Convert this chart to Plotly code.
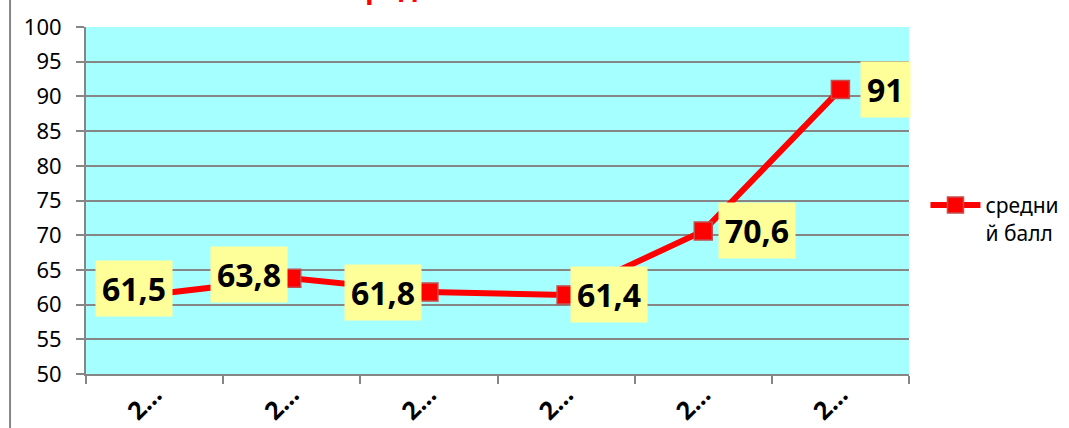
import plotly.graph_objects as go

categories = ["c1", "c2", "c3", "c4", "c5", "c6"]
tick_labels = ["2…", "2…", "2…", "2…", "2…", "2…"]
values = [61.5, 63.8, 61.8, 61.4, 70.6, 91]
value_labels = ["61,5", "63,8", "61,8", "61,4", "70,6", "91"]
series_name = "средни<br>й балл"
title_text = "Средний балл"

# label offsets (pixels) relative to each point
label_dx = [-21, -43, -46, 43, 54, 45]
label_dy = [6, 4, 0, 0, 1, 0]

fig = go.Figure()
fig.add_trace(go.Scatter(
    x=categories, y=values, mode="lines+markers", name=series_name,
    line=dict(color="#FF0000", width=6),
    marker=dict(symbol="square", size=18, color="#FF0000",
                line=dict(color="#C0504D", width=1.5)),
))

for c, v, t, dx, dy in zip(categories, values, value_labels, label_dx, label_dy):
    fig.add_annotation(x=c, y=v, text="<b>%s</b>" % t, showarrow=False,
                       xshift=dx, yshift=dy, bgcolor="#FFFF99", borderpad=6,
                       font=dict(family="Noto Sans", size=32, color="black"))

fig.add_annotation(xref="paper", yref="paper", x=0.44, y=1, yanchor="bottom",
                   yshift=19, text="<b>%s</b>" % title_text, showarrow=False,
                   font=dict(family="Noto Sans", size=28, color="#FF0000"))

fig.add_shape(type="line", xref="paper", yref="paper",
              x0=-0.0923, x1=-0.0923, y0=-0.2, y1=1.2,
              line=dict(color="#868686", width=2))

fig.update_layout(
    width=1069, height=428,
    margin=dict(l=86, r=160, t=27, b=54, autoexpand=False),
    paper_bgcolor="white", plot_bgcolor="#A6FFFF",
    font=dict(family="Noto Sans", size=21, color="black"),
    showlegend=True,
    legend=dict(x=1.02, y=0.545, xanchor="left", yanchor="top",
                valign="top", font=dict(size=21), bgcolor="rgba(0,0,0,0)",
                itemwidth=50),
)
fig.update_xaxes(
    type="category", categoryorder="array", categoryarray=categories,
    tickmode="array", tickvals=categories, ticktext=tick_labels,
    tickson="boundaries", ticks="outside", ticklen=8, tickwidth=2,
    tickcolor="#868686", tickangle=-45, showgrid=False, automargin=False,
    showline=True, linecolor="#868686", linewidth=2,
    tickfont=dict(family="Noto Sans", size=25, color="black", weight="bold"),
    ticklabelstandoff=-6,
    range=[-0.5, 5.5],
)
fig.update_yaxes(
    range=[50, 100], dtick=5, tick0=50, ticks="outside", ticklen=8,
    tickwidth=2, tickcolor="#868686", showgrid=True, gridcolor="#868686",
    gridwidth=2, showline=True, linecolor="#868686", linewidth=2,
    zeroline=False, ticklabelstandoff=10, automargin=False,
    tickfont=dict(family="Noto Sans", size=22, color="black"),
)

fig.write_html("out.html", config={"displayModeBar": False},
               post_script="document.body.style.margin='0';")
